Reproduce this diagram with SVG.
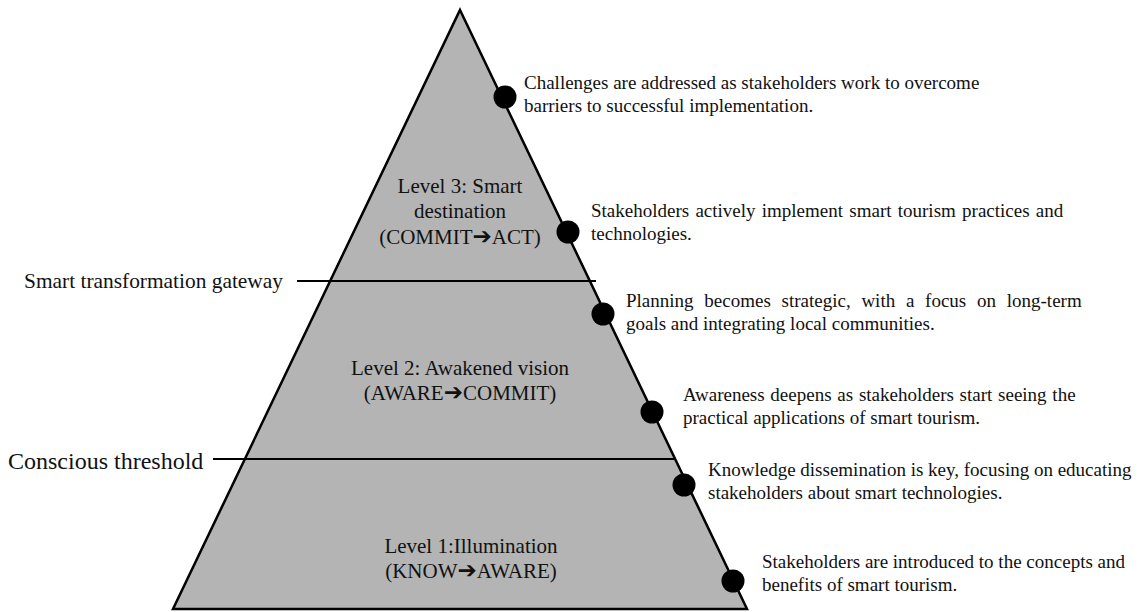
<svg xmlns="http://www.w3.org/2000/svg" width="1146" height="612" viewBox="0 0 1146 612">
  <style>
    .txt { font-family: "Liberation Serif", "Times New Roman", serif; fill: #111; }
    .note { font-size: 19px; }
    .lvl { font-size: 21px; text-anchor: middle; }
    .arr { font-family: "DejaVu Sans", sans-serif; font-size: 23px; }
    .edge { stroke: #000; stroke-width: 2; fill: none; }
    .dot { fill: #000; }
  </style>
  <rect width="1146" height="612" fill="#fff"/>

  <!-- pyramid body -->
  <g id="pyramid">
    <polygon points="460,10 747,609 173,609" fill="#b4b4b4" stroke="#000" stroke-width="2.5" stroke-linejoin="miter"/>
  </g>

  <!-- threshold lines crossing the pyramid -->
  <g id="connectors">
    <line class="edge" x1="297" y1="281" x2="596" y2="281"/>
    <line class="edge" x1="213" y1="459" x2="674" y2="459"/>
  </g>

  <g id="gateway-label">
    <text class="txt" x="24" y="288" font-size="21.4">Smart transformation gateway</text>
  </g>
  <g id="threshold-label">
    <text class="txt" x="8" y="469" font-size="24">Conscious threshold</text>
  </g>

  <!-- level labels -->
  <g id="level3">
    <text class="txt lvl" x="460" y="193">Level 3: Smart</text>
    <text class="txt lvl" x="460" y="218">destination</text>
    <text class="txt lvl" x="460" y="244">(COMMIT<tspan class="arr">➔</tspan>ACT)</text>
  </g>
  <g id="level2">
    <text class="txt lvl" x="460" y="375">Level 2: Awakened vision</text>
    <text class="txt lvl" x="460" y="400">(AWARE<tspan class="arr">➔</tspan>COMMIT)</text>
  </g>
  <g id="level1">
    <text class="txt lvl" x="471" y="553">Level 1:Illumination</text>
    <text class="txt lvl" x="471" y="578">(KNOW<tspan class="arr">➔</tspan>AWARE)</text>
  </g>

  <!-- stage markers along the right edge with their notes -->
  <g id="stage6">
    <circle class="dot" cx="505" cy="97" r="11.5"/>
    <text class="txt note" x="524" y="89">Challenges are addressed as stakeholders work to overcome</text>
    <text class="txt note" x="524" y="112">barriers to successful implementation.</text>
  </g>
  <g id="stage5">
    <circle class="dot" cx="568" cy="232" r="11.5"/>
    <text class="txt note" x="591" y="217" word-spacing="1.5">Stakeholders actively implement smart tourism practices and</text>
    <text class="txt note" x="591" y="240">technologies.</text>
  </g>
  <g id="stage4">
    <circle class="dot" cx="603" cy="314" r="11.5"/>
    <text class="txt note" x="626" y="307" word-spacing="6">Planning becomes strategic, with a focus on long-term</text>
    <text class="txt note" x="626" y="330">goals and integrating local communities.</text>
  </g>
  <g id="stage3">
    <circle class="dot" cx="652" cy="412" r="11.5"/>
    <text class="txt note" x="683" y="401" word-spacing="1">Awareness deepens as stakeholders start seeing the</text>
    <text class="txt note" x="683" y="424">practical applications of smart tourism.</text>
  </g>
  <g id="stage2">
    <circle class="dot" cx="684" cy="485" r="11.5"/>
    <text class="txt note" x="708" y="476">Knowledge dissemination is key, focusing on educating</text>
    <text class="txt note" x="708" y="499">stakeholders about smart technologies.</text>
  </g>
  <g id="stage1">
    <circle class="dot" cx="733" cy="581" r="11.5"/>
    <text class="txt note" x="762" y="568">Stakeholders are introduced to the concepts and</text>
    <text class="txt note" x="762" y="591">benefits of smart tourism.</text>
  </g>
</svg>
